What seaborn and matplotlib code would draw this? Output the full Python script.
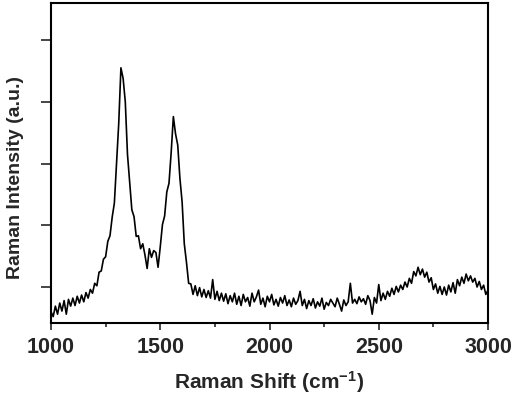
import numpy as np
import pandas as pd
import seaborn as sns
import matplotlib.pyplot as plt
from matplotlib.ticker import MultipleLocator

# Raman shift axis (cm-1), 10 cm-1 steps
shift = np.arange(1000, 3001, 10)

intensity = [
    600, 520, 690, 560, 740, 610, 780, 560, 800, 690,            # 1000-1090
    820, 700, 850, 740, 870, 760, 910, 820, 960, 900,            # 1100-1190
    1060, 1020, 1240, 1260, 1450, 1490, 1740, 1830, 2130, 2360,  # 1200-1290
    3000, 3650, 4550, 4380, 4000, 3150, 2700, 2250, 2140, 1820,  # 1300-1390
    1830, 1620, 1700, 1520, 1300, 1620, 1480, 1590, 1560, 1320,  # 1400-1490
    1650, 2010, 2150, 2540, 2680, 3180, 3760, 3480, 3300, 2760,  # 1500-1590
    2380, 1700, 1400, 1060, 1050, 880, 1020, 860, 990, 840,      # 1600-1690
    960, 830, 940, 820, 1120, 800, 930, 780, 900, 770,           # 1700-1790
    890, 730, 860, 760, 900, 720, 850, 700, 880, 760,            # 1800-1890
    830, 690, 900, 760, 840, 950, 720, 820, 680, 850,            # 1900-1990
    760, 880, 710, 800, 690, 830, 740, 860, 700, 790,            # 2000-2090
    680, 820, 720, 780, 930, 700, 800, 650, 780, 700,            # 2100-2190
    810, 660, 760, 690, 820, 640, 750, 700, 800, 740,            # 2200-2290
    680, 820, 720, 610, 790, 700, 760, 1060, 740, 800,           # 2300-2390
    730, 840, 760, 810, 720, 860, 780, 560, 830, 740,            # 2400-2490
    1040, 780, 900, 800, 930, 850, 980, 880, 1010, 920,          # 2500-2590
    1030, 960, 1080, 1000, 1140, 1060, 1250, 1180, 1320, 1200,   # 2600-2690
    1290, 1160, 1240, 1080, 1150, 960, 1050, 900, 1010, 880,     # 2700-2790
    1000, 870, 1030, 920, 1070, 900, 1120, 1020, 1160, 1060,     # 2800-2890
    1210, 1100, 1180, 1080, 1140, 1000, 1090, 960, 1030, 880,    # 2900-2990
    950,                                                         # 3000
]

df = pd.DataFrame({'shift': shift, 'intensity': intensity})

sns.set_style('ticks')
plt.rcParams['font.family'] = ['Liberation Sans', 'DejaVu Sans']
plt.rcParams['font.weight'] = 'bold'
plt.rcParams['mathtext.fontset'] = 'custom'
plt.rcParams['mathtext.rm'] = 'Liberation Sans:bold'
plt.rcParams['mathtext.default'] = 'rm'

fig = plt.figure(figsize=(5.12, 3.96), dpi=100)
ax = fig.add_axes([51 / 512, 73 / 396, 437 / 512, 320 / 396])

sns.lineplot(data=df, x='shift', y='intensity', color='black', linewidth=1.2, ax=ax)

ax.set_xlim(1000, 3000)
ax.set_ylim(417, 5600)
ax.xaxis.set_major_locator(MultipleLocator(500))
ax.xaxis.set_minor_locator(MultipleLocator(250))
ax.yaxis.set_major_locator(MultipleLocator(1000))
ax.set_yticklabels([])

ax.tick_params(axis='x', which='major', direction='out', length=5, width=1.2,
               labelsize=15.5, pad=5)
ax.tick_params(axis='x', which='minor', direction='out', length=3, width=1.2)
ax.tick_params(axis='y', which='major', direction='out', length=7, width=1.2)
for lbl in ax.get_xticklabels():
    lbl.set_fontweight('bold')

for sp in ax.spines.values():
    sp.set_visible(True)
    sp.set_linewidth(1.5)
    sp.set_color('black')

ax.set_xlabel('Raman Shift (cm$^{-1}$)', fontsize=15, fontweight='bold', labelpad=8)
ax.set_ylabel('Raman Intensity (a.u.)', fontsize=14, fontweight='bold')
ax.yaxis.set_label_coords(-0.062, 0.456)

fig.savefig('out.png', dpi=100)
